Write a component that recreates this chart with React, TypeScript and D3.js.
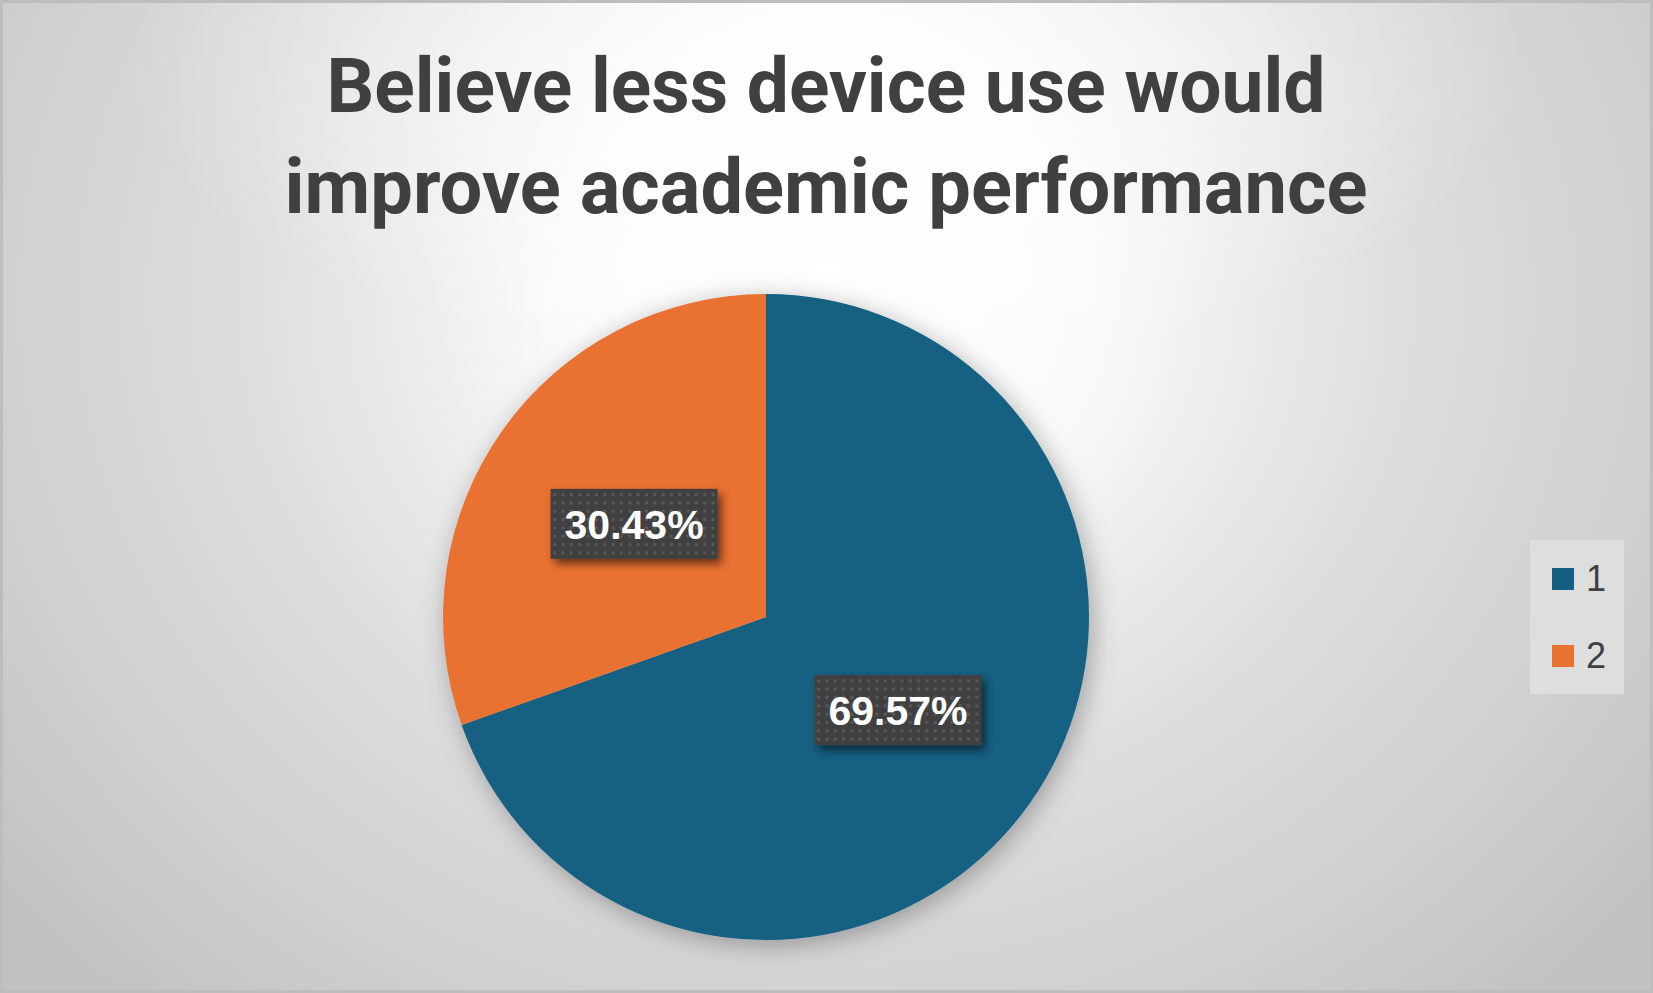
import React from 'react';
import * as d3 from 'd3';

const categories = ['1', '2'];
const values = [69.57, 30.43];
const colors = ['#156082', '#e97132'];
const titleLines = ['Believe less device use would', 'improve academic performance'];

const W = 1653;
const H = 993;

export default function App() {
  const cx = 766;
  const cy = 617;
  const radius = 323;

  const pie = d3.pie<number>().sort(null).value(d => d);
  const arcs = pie(values);
  const arc = d3.arc<d3.PieArcDatum<number>>().innerRadius(0).outerRadius(radius);

  const color = d3.scaleOrdinal<string, string>().domain(categories).range(colors);
  const legendY = d3.scalePoint<string>().domain(categories).range([579, 656]);

  return (
    <svg
      width={W}
      height={H}
      style={{ position: 'absolute', left: 0, top: 0, display: 'block' }}
    >
      <defs>
        {/* soft elliptical background, light at the top centre */}
        <radialGradient
          id="bg"
          gradientUnits="userSpaceOnUse"
          cx={826}
          cy={300}
          r={1080}
          gradientTransform="translate(826,300) scale(1,0.89) translate(-826,-300)"
        >
          <stop offset="0" stopColor="#ffffff" />
          <stop offset="0.25" stopColor="#fafafa" />
          <stop offset="0.39" stopColor="#ebebeb" />
          <stop offset="0.56" stopColor="#dcdcdc" />
          <stop offset="0.7" stopColor="#d4d4d4" />
          <stop offset="0.79" stopColor="#cfcfcf" />
          <stop offset="0.975" stopColor="#c2c2c2" />
        </radialGradient>
        <radialGradient id="topGlow" gradientUnits="userSpaceOnUse" cx={826} cy={60} r={700}
          gradientTransform="translate(826,60) scale(1,0.45) translate(-826,-60)">
          <stop offset="0" stopColor="#ffffff" stopOpacity={0.9} />
          <stop offset="1" stopColor="#ffffff" stopOpacity={0} />
        </radialGradient>
        <filter id="pieShadow" x="-20%" y="-20%" width="140%" height="140%">
          <feDropShadow dx="4" dy="5" stdDeviation="13" floodColor="#000" floodOpacity="0.3" />
        </filter>
        <filter id="boxShadow" x="-20%" y="-30%" width="150%" height="170%">
          <feDropShadow dx="4" dy="5" stdDeviation="4" floodColor="#000" floodOpacity="0.55" />
        </filter>
        <pattern id="dots" width={8.33} height={8.33} patternUnits="userSpaceOnUse">
          <rect width={8.33} height={8.33} fill="#404040" />
          <rect x={2.5} y={2.5} width={3} height={3} fill="#595959" />
        </pattern>
      </defs>

      <rect x={1.5} y={1.5} width={W - 3} height={H - 3} fill="url(#bg)" />
      <rect x={1.5} y={1.5} width={W - 3} height={H - 3} fill="url(#topGlow)" stroke="#bdbdbd" strokeWidth={3} />

      <g fill="#404040" fontFamily="'Liberation Sans Narrow', Roboto, sans-serif" fontWeight="bold" fontSize={76} textAnchor="middle">
        {titleLines.map((t, i) => (
          <text
            key={t}
            x={826}
            y={112 + i * 101}
            textLength={i === 0 ? 999 : 1083}
            lengthAdjust="spacingAndGlyphs"
          >
            {t}
          </text>
        ))}
      </g>

      <g transform={`translate(${cx},${cy})`}>
        <g filter="url(#pieShadow)">
          {arcs.map((a, i) => (
            <path key={i} d={arc(a) || ''} fill={color(categories[i])} />
          ))}
        </g>
        {arcs.map((a, i) => {
          const [lx, ly] = arc.centroid(a);
          const bw = 167;
          const bh = 70;
          return (
            <g key={`l${i}`} transform={`translate(${lx},${ly})`}>
              <rect x={-bw / 2} y={-bh / 2} width={bw} height={bh} fill="url(#dots)" filter="url(#boxShadow)" />
              <text
                y={15}
                textAnchor="middle"
                fill="#ffffff"
                fontFamily="'Liberation Sans', Arial, sans-serif"
                fontWeight="bold"
                fontSize={41}
              >
                {values[i].toFixed(2)}%
              </text>
            </g>
          );
        })}
      </g>

      <rect x={1530} y={540} width={94} height={154} fill="#dedede" />
      {categories.map(c => (
        <g key={c} transform={`translate(1552,${legendY(c)})`}>
          <rect x={0} y={-11} width={22} height={22} fill={color(c)} />
          <text x={34} y={12} fill="#404040" fontFamily="'Liberation Sans', Arial, sans-serif" fontSize={36}>
            {c}
          </text>
        </g>
      ))}
    </svg>
  );
}
